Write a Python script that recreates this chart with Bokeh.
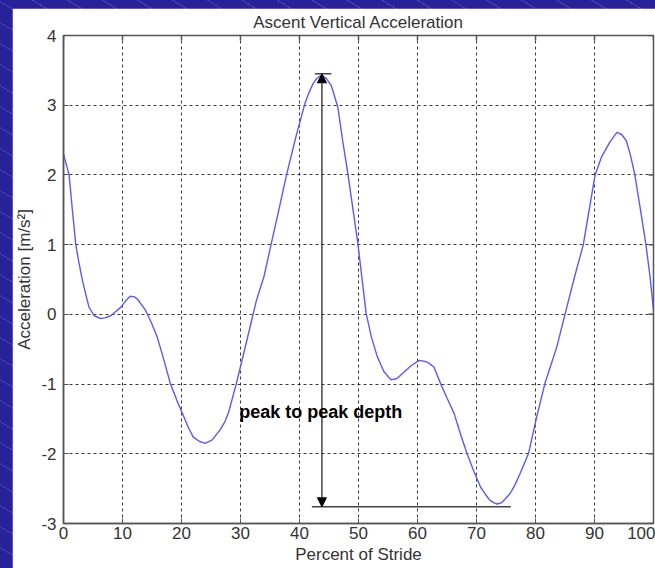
import math
from bokeh.plotting import figure
from bokeh.models import Range1d, FixedTicker, Label, Arrow, NormalHead
from bokeh.layouts import column
from bokeh.embed import file_html
from bokeh.resources import INLINE

# ---- data ----
pct = [0, 0.95, 1.5, 2.08, 2.6, 3.2, 3.8, 4.33, 5.2, 6.3, 7.0, 8.0, 9.7, 10.5,
       11.3, 12.0, 12.5, 13.9, 14.9, 15.9, 17.0, 18.1, 19.2, 20.4, 21.2, 22.0,
       23.0, 24.0, 25.2, 26.5, 27.3, 28.0, 29.3, 30.2, 31.0, 32.7, 34.0, 35.2,
       36.5, 37.8, 39.4, 40.9, 41.6, 42.3, 43.0, 43.7, 44.5, 45.4, 46.5, 47.3,
       48.2, 49.9, 51.3, 52.2, 53.2, 54.3, 55.5, 56.5, 57.7, 59.0, 60.3, 61.5,
       62.1, 62.8, 63.9, 65.0, 66.2, 67.3, 68.4, 69.6, 70.7, 71.5, 72.2, 72.9,
       73.5, 74.3, 75.7, 76.5, 77.3, 78.8, 80.2, 81.6, 82.6, 83.6, 85.0, 86.5,
       88.1, 89.1, 90.1, 91.2, 92.6, 93.8, 94.6, 95.4, 96.1, 96.8, 97.7, 98.7,
       99.4, 100]
acc = [2.30, 2.00, 1.50, 1.00, 0.75, 0.49, 0.28, 0.10, -0.02, -0.06, -0.05, -0.02,
       0.10, 0.19, 0.26, 0.25, 0.22, 0.06, -0.12, -0.33, -0.65, -0.99, -1.23, -1.47,
       -1.63, -1.76, -1.82, -1.85, -1.80, -1.66, -1.55, -1.40, -0.99, -0.68, -0.40,
       0.20, 0.55, 1.01, 1.50, 2.00, 2.55, 3.02, 3.18, 3.31, 3.39, 3.43, 3.39, 3.28,
       2.97, 2.50, 2.02, 1.01, 0.01, -0.33, -0.61, -0.82, -0.94, -0.92, -0.83, -0.73,
       -0.66, -0.68, -0.71, -0.76, -0.99, -1.20, -1.42, -1.72, -2.00, -2.26, -2.48,
       -2.58, -2.66, -2.70, -2.72, -2.70, -2.57, -2.45, -2.30, -2.00, -1.47, -0.99,
       -0.73, -0.47, 0.00, 0.50, 1.00, 1.50, 2.00, 2.26, 2.47, 2.61, 2.58, 2.49,
       2.28, 2.02, 1.55, 1.01, 0.55, 0.06]

x_ticks = [0, 10, 20, 30, 40, 50, 60, 70, 80, 90, 100]
y_ticks = [-3, -2, -1, 0, 1, 2, 3, 4]

title_text = "Ascent Vertical Acceleration"
x_label = "Percent of Stride"
y_label = "Acceleration [m/s²]"

# peak-to-peak annotation
annot_text = "peak to peak depth"
annot_text_x = 29.8
annot_text_y = -1.40
arrow_x = 43.8
peak_y = 3.45
trough_y = -2.76
top_bar_x = [42.6, 45.4]
bottom_bar_x = [42.1, 75.8]

FONT = "Liberation Sans"
TXT = "#333333"
AX = "#555555"

p = figure(width=643, height=560, x_range=Range1d(0, 100), y_range=Range1d(-3, 4),
           output_backend="svg", toolbar_location=None,
           min_border_left=49, min_border_top=27, min_border_right=2, min_border_bottom=45,
           background_fill_color="white", border_fill_color="white")

p.title.text = title_text
p.title.align = "center"
p.title.vertical_align = "top"
p.title.text_font = FONT
p.title.text_font_size = "17px"
p.title.text_font_style = "normal"
p.title.text_color = TXT
p.title.standoff = 4

p.outline_line_color = AX
p.outline_line_width = 1.5

for ax in (p.xaxis[0], p.yaxis[0]):
    ax.major_tick_in = 5
    ax.major_tick_out = 0
    ax.minor_tick_in = 0
    ax.minor_tick_out = 0
    ax.axis_line_color = AX
    ax.axis_line_width = 1.5
    ax.major_tick_line_color = AX
    ax.major_label_text_font = FONT
    ax.major_label_text_font_size = "17px"
    ax.major_label_text_color = TXT
    ax.axis_label_text_font = FONT
    ax.axis_label_text_font_size = "17px"
    ax.axis_label_text_font_style = "normal"
    ax.axis_label_text_color = TXT

p.xaxis[0].ticker = FixedTicker(ticks=x_ticks)
p.yaxis[0].ticker = FixedTicker(ticks=y_ticks)
p.yaxis[0].major_label_overrides = {t: str(t) for t in y_ticks}
p.xaxis[0].axis_label = x_label
p.yaxis[0].axis_label = y_label
p.xaxis[0].major_label_standoff = 3
p.xaxis[0].axis_label_standoff = 3
p.yaxis[0].major_label_standoff = 7
p.yaxis[0].axis_label_standoff = 4

p.xgrid.ticker = FixedTicker(ticks=x_ticks)
p.ygrid.ticker = FixedTicker(ticks=y_ticks)
for g in (p.xgrid[0], p.ygrid[0]):
    g.grid_line_color = "#222222"
    g.grid_line_dash = "3 3"
    g.grid_line_width = 1
    g.grid_line_alpha = 0.9

# inward tick marks on the top and right edges of the box
p.scatter(x_ticks, [y_ticks[-1]] * len(x_ticks), marker="dash", size=10,
          angle=math.pi / 2, line_color=AX, line_width=1.5)
p.scatter([x_ticks[-1]] * len(y_ticks), y_ticks, marker="dash", size=10,
          line_color=AX, line_width=1.5)

# curve
p.line(pct, acc, line_color="#5a5af5", line_width=1.4)

# annotation lines
p.line(top_bar_x, [peak_y, peak_y], line_color="#444444", line_width=1.5)
p.line(bottom_bar_x, [trough_y, trough_y], line_color="#444444", line_width=1.5)
p.add_layout(Arrow(start=NormalHead(size=9, fill_color="black", line_color="black"),
                   end=NormalHead(size=9, fill_color="black", line_color="black"),
                   x_start=arrow_x, y_start=trough_y, x_end=arrow_x, y_end=peak_y,
                   line_color="#444444", line_width=1.5))
p.add_layout(Label(x=annot_text_x, y=annot_text_y, text=annot_text,
                   text_font=FONT, text_font_size="18px", text_font_style="bold",
                   text_color="black", text_baseline="alphabetic"))

p.margin = (8, 0, 0, 12)

bg = ("repeating-linear-gradient(31deg, #27219a 0px, #27219a 17px, "
      "#4848b0 17px, #4848b0 18px)")
layout = column(p, width=655, height=568, styles={"background": bg})

open("out.html", "w").write(file_html(layout, INLINE))
